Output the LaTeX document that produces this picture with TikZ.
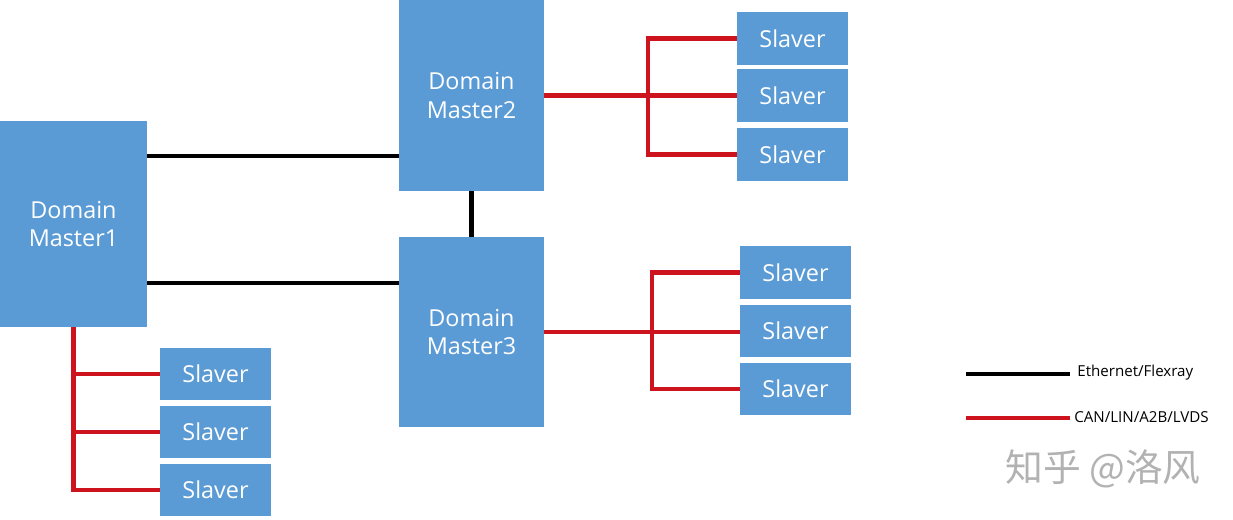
\documentclass[tikz,border=0pt]{standalone}
\usepackage{fontspec}
\setmainfont{Open Sans}
\newfontfamily\cjk{Noto Sans CJK SC}
\begin{document}
\begin{tikzpicture}[x=0.02cm,y=-0.02cm,
  box/.style={rectangle,fill=boxblue,draw=none,inner sep=0pt,text=white,align=center,
    font=\fontsize{13.3}{16.4}\selectfont},
  master/.style={box,minimum width=2.9cm},
  slave/.style={box,minimum width=2.22cm,minimum height=1.05cm},
  eth/.style={line width=2.8pt,draw=black},
  can/.style={line width=2.8pt,draw=canred},
  legend/.style={font=\fontsize{8.6}{10}\selectfont,anchor=west,inner sep=0pt}]
\definecolor{boxblue}{RGB}{91,155,213}
\definecolor{canred}{RGB}{205,20,30}
\useasboundingbox (0,0) rectangle (1233,520);
% masters
\node[master,minimum width=2.94cm,minimum height=4.12cm] (DM1) at (73.5,224) {Domain\\Master1};
\node[master,minimum height=3.82cm] (DM2) at (471.5,95.5) {Domain\\Master2};
\node[master,minimum height=3.8cm] (DM3) at (471.5,332) {Domain\\Master3};
% slavers
\node[slave] (s21) at (792.5,38.5) {Slaver};
\node[slave] (s22) at (792.5,95.5) {Slaver};
\node[slave] (s23) at (792.5,154.5) {Slaver};
\node[slave] (s31) at (795.5,272.5) {Slaver};
\node[slave] (s32) at (795.5,331) {Slaver};
\node[slave] (s33) at (795.5,389) {Slaver};
\node[slave] (s11) at (215.5,374) {Slaver};
\node[slave] (s12) at (215.5,432) {Slaver};
\node[slave] (s13) at (215.5,490) {Slaver};
% ethernet links
\coordinate (e1) at (300,156);
\coordinate (e2) at (300,283);
\draw[eth] (DM1.east |- e1) -- (DM2.west |- e1);
\draw[eth] (DM1.east |- e2) -- (DM3.west |- e2);
\draw[eth] (DM2.south) -- (DM3.north);
% CAN links
\coordinate (j2) at (648,95.5);
\draw[can] (DM2.east) -- (j2);
\draw[can] (s21.west) -| (j2) |- (s23.west);
\draw[can] (j2) -- (s22.west |- j2);
\coordinate (j3) at (652,332);
\draw[can] (DM3.east) -- (j3);
\draw[can] (s31.west) -| (j3) |- (s33.west);
\draw[can] (j3) -- (s32.west |- j3);
\draw[can] (DM1.south) |- (s13.west);
\draw[can] (s11.west) -- (s11.west -| DM1.south);
\draw[can] (s12.west) -- (s12.west -| DM1.south);
% legend
\coordinate (la1) at (966,374);
\coordinate (lb1) at (1070,374);
\coordinate (la2) at (966,418);
\coordinate (lb2) at (1070,418);
\draw[eth] (la1) -- (lb1);
\draw[can] (la2) -- (lb2);
\node[legend] (t1) at (1077,373) {Ethernet/Flexray};
\node[legend] (t2) at (1074,417) {CAN/LIN/A2B/LVDS};
% watermark
\node[text=black!30,font=\cjk\fontsize{21.5}{24}\selectfont] (wm) at (1103,469) {知乎 @洛风};
\end{tikzpicture}
\end{document}
